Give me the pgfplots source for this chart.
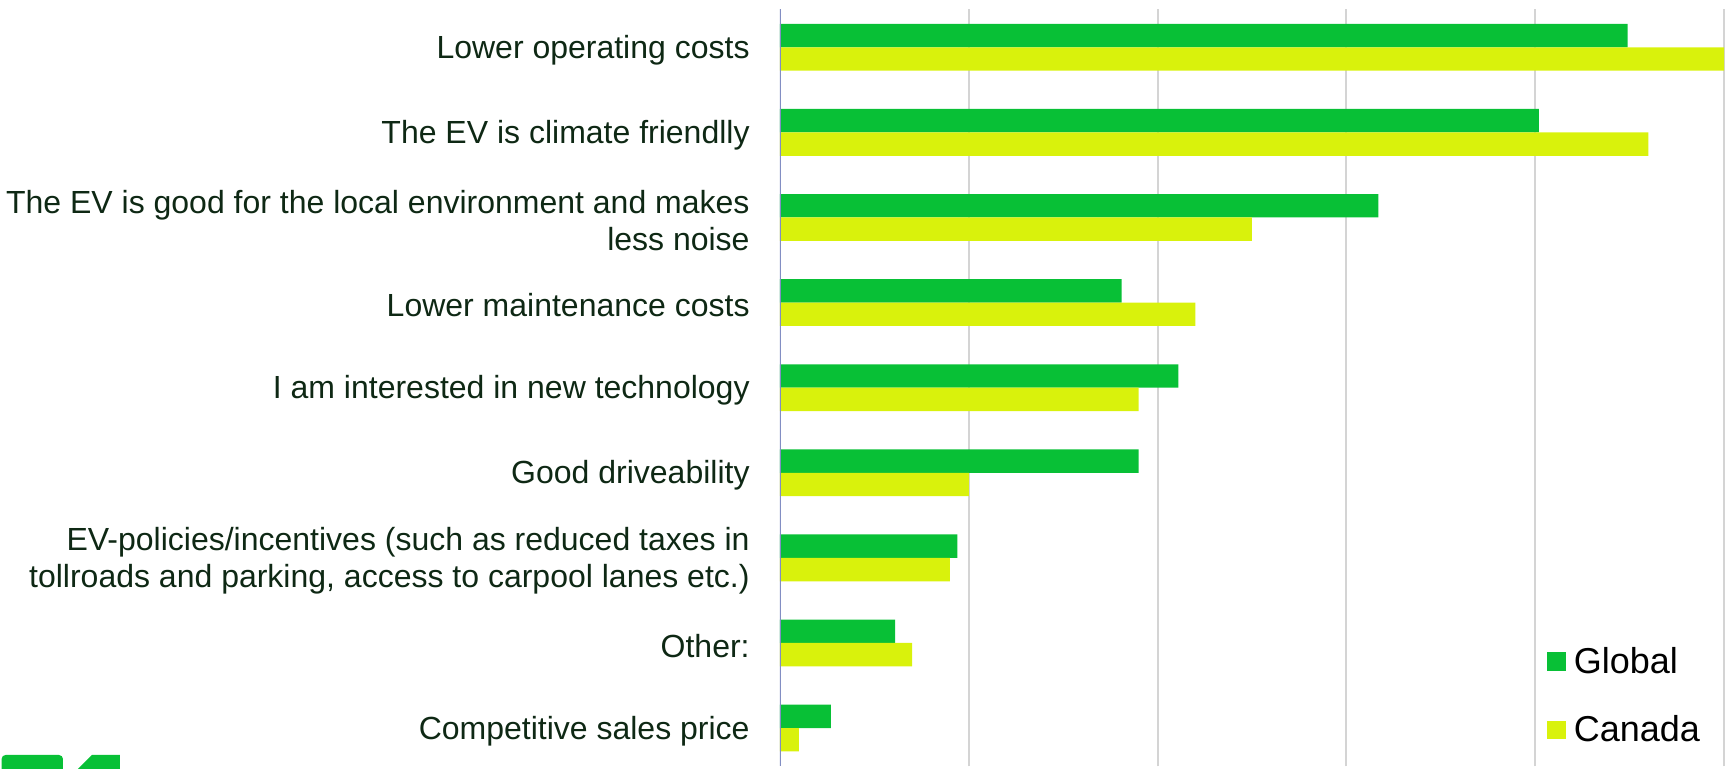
\documentclass[border=0pt]{standalone}
\usepackage{fontspec}
\setmainfont{Liberation Sans}
\usepackage{pgfplots}
\pgfplotsset{compat=1.18}
\definecolor{globalgreen}{RGB}{8,192,54}
\definecolor{canadalime}{RGB}{217,242,12}
\definecolor{labelgreen}{RGB}{14,40,20}
\definecolor{axisblue}{RGB}{130,142,195}
\definecolor{gridgray}{RGB}{212,212,212}

\begin{document}
\begin{tikzpicture}
\begin{axis}[
    width=472pt, height=378.7pt, scale only axis,
    xbar, bar width=11.7pt,
    xmin=0, xmax=50, ymin=-0.45, ymax=8.45,
    xtick={10,20,30,40,50}, xticklabels={},
    ytick={0,...,8},
    yticklabels={
        {Competitive sales price},
        {Other:},
        {EV-policies/incentives (such as reduced taxes in\\tollroads and parking, access to carpool lanes etc.)},
        {Good driveability},
        {I am interested in new technology},
        {Lower maintenance costs},
        {The EV is good for the local environment and makes\\less noise},
        {The EV is climate friendlly},
        {Lower operating costs}},
    major tick length=0pt,
    xmajorgrids, grid style={gridgray, line width=1pt},
    axis line style={draw=none},
    yticklabel style={align=right, font=\fontsize{16}{18.5}\selectfont,
        text=labelgreen, inner sep=0pt, xshift=-15pt, yshift=-1.4pt},
    legend cell align=left,
    legend style={at={(rel axis cs:0.8125,0.158)}, anchor=north west,
        draw=none, fill=none, inner sep=0pt, row sep=19.5pt, column sep=4pt,
        font=\fontsize{18}{20}\selectfont, nodes={inner sep=0pt}},
]
\addplot[fill=globalgreen, draw=none, bar shift=5.85pt,
    legend image code/.code={\fill[globalgreen] (0pt,-4.6pt) rectangle (9.2pt,4.6pt);}]
    coordinates {(2.7,0) (6.1,1) (9.4,2) (19.0,3) (21.1,4) (18.1,5) (31.7,6) (40.2,7) (44.9,8)};
\addlegendentry{Global}
\addplot[fill=canadalime, draw=none, bar shift=-5.85pt,
    legend image code/.code={\fill[canadalime] (0pt,-4.6pt) rectangle (9.2pt,4.6pt);}]
    coordinates {(1.0,0) (7.0,1) (9.0,2) (10.0,3) (19.0,4) (22.0,5) (25.0,6) (46.0,7) (50.0,8)};
\addlegendentry{Canada}
% left axis line
\draw[axisblue, line width=1.5pt] (rel axis cs:0,0) -- (rel axis cs:0,1);
\end{axis}
\path (current axis.south west) ++(-390pt,-1.3pt) coordinate (BL);
\path (current axis.north east) ++(3.5pt,4.5pt) coordinate (TR);
% cut-off logo at bottom left
\fill[globalgreen, rounded corners=2pt] (BL) ++(0.8pt,-3pt) rectangle ++(30.7pt,10pt);
\fill[globalgreen] (BL) ++(39pt,0pt) -- ++(7pt,7pt) -- ++(14pt,0pt) -- ++(0pt,-7pt) -- cycle;
\pgfresetboundingbox
\useasboundingbox (BL) rectangle (TR);
\end{tikzpicture}
\end{document}
